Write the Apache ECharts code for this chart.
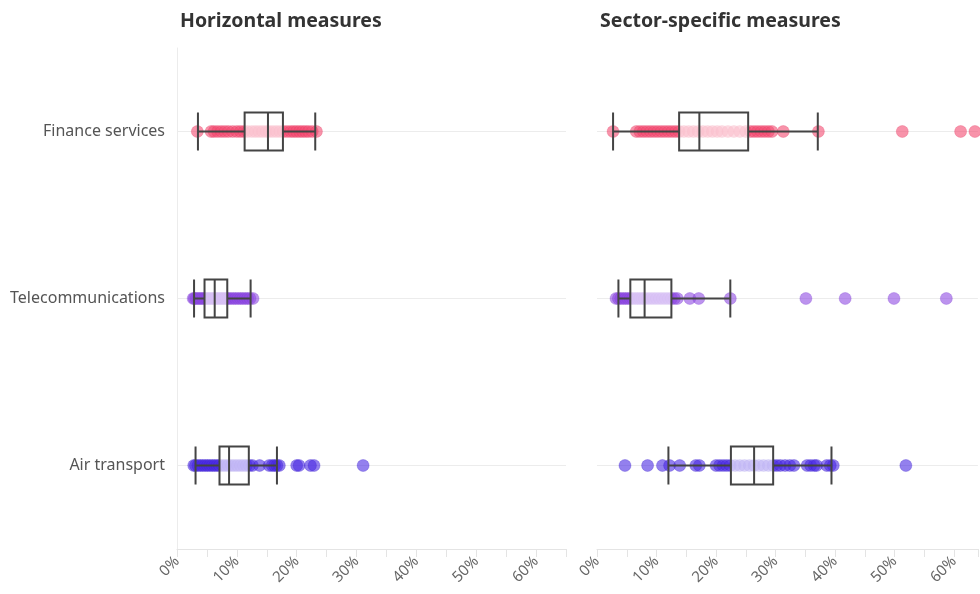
<!DOCTYPE html>
<html>
<head>
<meta charset="utf-8">
<script src="https://cdn.jsdelivr.net/npm/echarts@6/dist/echarts.min.js"></script>
<style>
  html, body { margin: 0; padding: 0; background: #fff; }
  #chart { width: 980px; height: 594px; }
</style>
</head>
<body>
<div id="chart"></div>
<script>
// Sectors shown on the vertical axis (top to bottom)
const categories = ['Finance services', 'Telecommunications', 'Air transport'];
const panelTitles = ['Horizontal measures', 'Sector-specific measures'];

// Individual country values, in percent — horizontal measures
const hFinance = [3.4, 5.7, 6.2, 6.8, 7.4, 8.0, 8.6, 9.3, 10.0, 10.6, 11.2, 11.8, 12.5, 13.1, 13.7, 14.3, 14.9, 15.4, 16.0, 16.6, 17.2, 17.8, 18.4, 19.0, 19.5, 20.0, 20.5, 21.0, 21.5, 22.0, 22.6, 23.3];
const hTelecom = [2.7, 2.9, 3.2, 3.5, 3.8, 4.1, 4.4, 4.7, 5.0, 5.3, 5.6, 5.9, 6.2, 6.5, 6.8, 7.1, 7.4, 7.7, 8.0, 8.3, 8.6, 9.0, 9.4, 9.8, 10.2, 10.6, 11.0, 11.4, 11.8, 12.2, 12.7];
const hAir = [2.8, 3.1, 3.5, 3.9, 4.3, 4.7, 5.1, 5.5, 5.9, 6.3, 6.7, 7.1, 7.6, 8.1, 8.6, 9.1, 9.6, 10.1, 10.6, 11.1, 11.6, 12.1, 12.6, 13.8, 15.4, 15.9, 16.3, 16.7, 17.1, 20.0, 20.4, 22.3, 22.9, 31.1];

// Individual country values, in percent — sector-specific measures
const sFinance = [2.7, 6.6, 7.2, 7.8, 8.4, 9.0, 9.6, 10.2, 10.8, 11.4, 12.0, 12.6, 13.2, 13.8, 14.6, 15.4, 16.2, 17.0, 17.8, 18.6, 19.4, 20.2, 21.0, 22.0, 23.0, 24.0, 25.0, 25.8, 26.4, 27.0, 27.6, 28.2, 28.8, 29.4, 31.3, 37.2, 51.3, 61.1, 63.5];
const sTelecom = [3.2, 3.6, 4.0, 4.4, 4.8, 5.2, 5.6, 6.0, 6.4, 6.8, 7.2, 7.6, 8.0, 8.5, 9.0, 9.5, 10.0, 10.5, 11.0, 11.5, 12.0, 12.5, 13.0, 13.5, 15.6, 17.1, 22.4, 35.1, 41.7, 49.9, 58.7];
const sAir = [4.7, 8.5, 11.0, 12.2, 13.9, 16.6, 17.2, 20.0, 20.6, 21.2, 21.8, 22.4, 23.2, 24.0, 24.8, 25.6, 26.4, 27.2, 28.0, 28.8, 29.6, 30.2, 30.8, 31.6, 32.4, 33.1, 35.3, 35.9, 36.5, 36.9, 38.6, 39.2, 39.7, 51.9];

// Box summaries [lower whisker, Q1, median, Q3, upper whisker]
const hBoxes = [
  [3.5, 11.3, 15.2, 17.7, 23.1],
  [2.85, 4.6, 6.3, 8.4, 12.3],
  [3.1, 7.1, 8.7, 12.0, 16.7]
];
const sBoxes = [
  [2.7, 13.8, 17.2, 25.4, 37.1],
  [3.6, 5.6, 8.0, 12.5, 22.4],
  [12.0, 22.5, 26.4, 29.6, 39.4]
];

// Axis ranges and tick labels (the right panel runs off the page edge)
const xMin = 0, xStep = 5;
const xMaxLeft = 65, xMaxRight = 64;
const tickLabels = { 0: '0%', 10: '10%', 20: '20%', 30: '30%', 40: '40%', 50: '50%', 60: '60%' };

const pointColors = [
  { fill: 'rgba(243,72,112,0.74)', border: 'rgba(226,58,98,0.35)' },
  { fill: 'rgba(142,72,226,0.74)', border: 'rgba(122,56,210,0.35)' },
  { fill: 'rgba(72,40,226,0.74)',  border: 'rgba(58,30,206,0.35)' }
];

const FONT = '"Noto Sans", "Open Sans", sans-serif';

const grids = [
  { left: 177, top: 48, width: 389, height: 501 },
  { left: 597, top: 48, width: 383, height: 501 }
];
const xMaxes = [xMaxLeft, xMaxRight];

function xAxisFor(i) {
  return {
    type: 'value', gridIndex: i, min: xMin, max: xMaxes[i], interval: xStep,
    axisLine: { show: true, lineStyle: { color: '#e4e4e4', width: 1 } },
    axisTick: { show: true, length: 8, lineStyle: { color: '#e4e4e4' } },
    splitLine: { show: false },
    axisLabel: {
      rotate: 45, margin: 10, fontSize: 15, color: '#666', fontFamily: FONT,
      formatter: v => tickLabels[v] || ''
    }
  };
}

function yAxisFor(i) {
  return {
    type: 'category', gridIndex: i, data: categories, inverse: true,
    axisLine: { show: i === 0, lineStyle: { color: '#ececec', width: 1 } },
    axisTick: { show: false },
    splitLine: { show: false },
    axisLabel: { show: i === 0, fontSize: 16, color: '#555', margin: 12, fontFamily: FONT }
  };
}

function scatterSeries(values, catIdx, panel) {
  const c = pointColors[catIdx];
  return {
    type: 'scatter', xAxisIndex: panel, yAxisIndex: panel, z: 2,
    symbolSize: 12,
    itemStyle: { color: c.fill, borderColor: c.border, borderWidth: 1 },
    data: values.map(v => [v, categories[catIdx]]),
    markLine: {
      silent: true, symbol: 'none', z: 1,
      label: { show: false },
      lineStyle: { color: '#ececec', width: 1, type: 'solid' },
      data: [{ yAxis: categories[catIdx] }]
    }
  };
}

function boxSeries(boxes, panel) {
  return {
    type: 'boxplot', xAxisIndex: panel, yAxisIndex: panel, z: 4,
    boxWidth: [38, 38],
    itemStyle: { color: 'rgba(255,255,255,0.66)', borderColor: '#444', borderWidth: 2 },
    data: boxes
  };
}

const chart = echarts.init(document.getElementById('chart'), null, { renderer: 'canvas' });
chart.setOption({
  animation: false,
  backgroundColor: '#fff',
  title: panelTitles.map((t, i) => ({
    text: t, left: grids[i].left - 2, top: 6,
    textStyle: { fontSize: 19.5, fontWeight: 'bold', color: '#333', fontFamily: FONT }
  })),
  grid: grids,
  xAxis: [xAxisFor(0), xAxisFor(1)],
  yAxis: [yAxisFor(0), yAxisFor(1)],
  series: [
    scatterSeries(hFinance, 0, 0),
    scatterSeries(hTelecom, 1, 0),
    scatterSeries(hAir, 2, 0),
    scatterSeries(sFinance, 0, 1),
    scatterSeries(sTelecom, 1, 1),
    scatterSeries(sAir, 2, 1),
    boxSeries(hBoxes, 0),
    boxSeries(sBoxes, 1)
  ]
});
</script>
</body>
</html>
